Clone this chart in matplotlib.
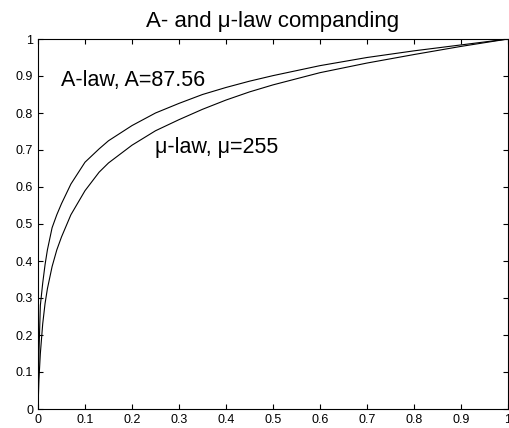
import matplotlib.pyplot as plt
import numpy as np

plt.rcParams['font.family'] = ['Liberation Sans', 'DejaVu Sans']

# values
x = [0, 0.002, 0.005, 0.01, 0.015, 0.02, 0.03, 0.04, 0.05, 0.07, 0.1, 0.13,
     0.15, 0.2, 0.25, 0.3, 0.35, 0.4, 0.45, 0.5, 0.6, 0.7, 0.8, 0.9, 1.0]
a_law = [0, 0.15, 0.28, 0.34, 0.39, 0.43, 0.49, 0.525, 0.555, 0.608, 0.667, 0.703,
         0.725, 0.766, 0.80, 0.826, 0.85, 0.869, 0.886, 0.901, 0.928, 0.950,
         0.968, 0.984, 1.0]
mu_law = [0, 0.08, 0.15, 0.23, 0.285, 0.325, 0.385, 0.43, 0.465, 0.525, 0.59,
          0.64, 0.665, 0.713, 0.752, 0.782, 0.81, 0.835, 0.857, 0.876, 0.909,
          0.935, 0.958, 0.98, 1.0]

xticks = np.arange(0, 1.01, 0.1)
yticks = np.arange(0, 1.01, 0.1)
ticklabels = ['0', '0.1', '0.2', '0.3', '0.4', '0.5', '0.6', '0.7', '0.8', '0.9', '1']

fig = plt.figure(figsize=(5.1, 4.28), dpi=100)
ax = fig.add_axes([38 / 510, 19 / 428, 470 / 510, 370 / 428])

ax.plot(x, a_law, color='black', linewidth=0.8)
ax.plot(x, mu_law, color='black', linewidth=0.8)

ax.text(0.05, 0.874, 'A-law, A=87.56', fontsize=15.5)
ax.text(0.249, 0.692, 'μ-law, μ=255', fontsize=15.5)

ax.set_xlim(0, 1)
ax.set_ylim(0, 1)
ax.set_xticks(xticks)
ax.set_yticks(yticks)
ax.set_xticklabels(ticklabels)
ax.set_yticklabels(ticklabels)
ax.tick_params(direction='in', length=3.6, width=0.8, labelsize=9,
               top=True, right=True, pad=3.5)
for s in ax.spines.values():
    s.set_linewidth(0.8)

ax.set_title('A- and μ-law companding', fontsize=16, pad=8.5)

fig.savefig('out.png', dpi=100)
